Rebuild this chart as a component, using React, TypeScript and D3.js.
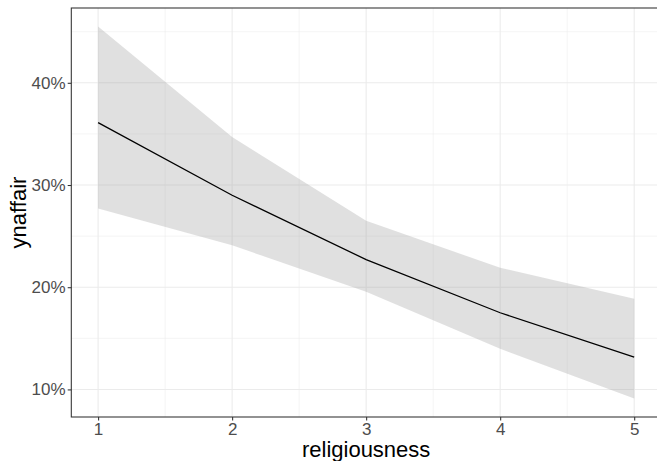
import { useEffect, useRef } from "react";
import * as d3 from "d3";

const religiousness = [1, 2, 3, 4, 5];
const fitValues = [0.361, 0.29, 0.227, 0.175, 0.1315];
const lowerValues = [0.277, 0.241, 0.1956, 0.1397, 0.0912];
const upperValues = [0.455, 0.347, 0.265, 0.219, 0.1887];
const yTicks = [0.1, 0.2, 0.3, 0.4];
const yMinor = [0.15, 0.25, 0.35, 0.45];
const xMinor = [1.5, 2.5, 3.5, 4.5];

const W = 657;
const H = 461;
const margin = { top: 8, right: -4, bottom: 44, left: 71.3 };
const innerW = W - margin.left - margin.right;
const innerH = H - margin.top - margin.bottom;

const font = "'Liberation Sans', Arial, Helvetica, sans-serif";

export default function App() {
  const ref = useRef<SVGSVGElement>(null);

  useEffect(() => {
    if (!ref.current) return;
    const svg = d3.select(ref.current);
    svg.selectAll("*").remove();

    const xSpan = 5 - 1;
    const x = d3
      .scaleLinear()
      .domain([1 - xSpan * 0.05, 5 + xSpan * 0.05])
      .range([0, innerW]);

    const yMin = d3.min(lowerValues) as number;
    const yMax = d3.max(upperValues) as number;
    const ySpan = yMax - yMin;
    const y = d3
      .scaleLinear()
      .domain([yMin - ySpan * 0.05, yMax + ySpan * 0.05])
      .range([innerH, 0]);

    const g = svg
      .append("g")
      .attr("transform", `translate(${margin.left},${margin.top})`);

    g.append("rect")
      .attr("width", innerW)
      .attr("height", innerH)
      .attr("fill", "white");

    // minor grid
    g.selectAll(".ymin")
      .data(yMinor)
      .join("line")
      .attr("x1", 0)
      .attr("x2", innerW)
      .attr("y1", (d) => y(d))
      .attr("y2", (d) => y(d))
      .attr("stroke", "#ebebeb")
      .attr("stroke-width", 0.55);
    g.selectAll(".xmin")
      .data(xMinor)
      .join("line")
      .attr("y1", 0)
      .attr("y2", innerH)
      .attr("x1", (d) => x(d))
      .attr("x2", (d) => x(d))
      .attr("stroke", "#ebebeb")
      .attr("stroke-width", 0.55);

    // major grid
    g.selectAll(".ymaj")
      .data(yTicks)
      .join("line")
      .attr("x1", 0)
      .attr("x2", innerW)
      .attr("y1", (d) => y(d))
      .attr("y2", (d) => y(d))
      .attr("stroke", "#ebebeb")
      .attr("stroke-width", 1.07);
    g.selectAll(".xmaj")
      .data(religiousness)
      .join("line")
      .attr("y1", 0)
      .attr("y2", innerH)
      .attr("x1", (d) => x(d))
      .attr("x2", (d) => x(d))
      .attr("stroke", "#ebebeb")
      .attr("stroke-width", 1.07);

    const idx = d3.range(religiousness.length);

    const area = d3
      .area<number>()
      .x((i) => x(religiousness[i]))
      .y0((i) => y(lowerValues[i]))
      .y1((i) => y(upperValues[i]));
    g.append("path")
      .attr("d", area(idx) ?? "")
      .attr("fill", "#999999")
      .attr("fill-opacity", 0.3);

    const line = d3
      .line<number>()
      .x((i) => x(religiousness[i]))
      .y((i) => y(fitValues[i]));
    g.append("path")
      .attr("d", line(idx) ?? "")
      .attr("fill", "none")
      .attr("stroke", "black")
      .attr("stroke-width", 1.3);

    g.append("rect")
      .attr("width", innerW)
      .attr("height", innerH)
      .attr("fill", "none")
      .attr("stroke", "#333333")
      .attr("stroke-width", 1.07);

    // y axis
    const yAxis = g
      .append("g")
      .call(
        d3
          .axisLeft(y)
          .tickValues(yTicks)
          .tickSize(3.6)
          .tickPadding(2.2)
          .tickFormat((d) => `${Math.round((d as number) * 100)}%`)
      );
    yAxis.select(".domain").remove();
    yAxis.selectAll("line").attr("stroke", "#333333").attr("stroke-width", 1.07);
    yAxis
      .selectAll("text")
      .attr("fill", "#4d4d4d")
      .style("font-family", font)
      .style("font-size", "17px");

    // x axis
    const xAxis = g
      .append("g")
      .attr("transform", `translate(0,${innerH})`)
      .call(
        d3
          .axisBottom(x)
          .tickValues(religiousness)
          .tickSize(3.6)
          .tickPadding(2.2)
          .tickFormat(d3.format("d"))
      );
    xAxis.select(".domain").remove();
    xAxis.selectAll("line").attr("stroke", "#333333").attr("stroke-width", 1.07);
    xAxis
      .selectAll("text")
      .attr("fill", "#4d4d4d")
      .style("font-family", font)
      .style("font-size", "17px");

    svg
      .append("text")
      .attr("x", margin.left + x(3))
      .attr("y", 457)
      .attr("text-anchor", "middle")
      .style("font-family", font)
      .style("font-size", "22px")
      .attr("fill", "black")
      .text("religiousness");

    svg
      .append("text")
      .attr(
        "transform",
        `translate(26,${margin.top + innerH / 2}) rotate(-90)`
      )
      .attr("text-anchor", "middle")
      .style("font-family", font)
      .style("font-size", "22px")
      .attr("fill", "black")
      .text("ynaffair");
  }, []);

  return (
    <svg
      ref={ref}
      width={W}
      height={H}
      style={{ position: "absolute", left: 0, top: 0, background: "white" }}
    />
  );
}
